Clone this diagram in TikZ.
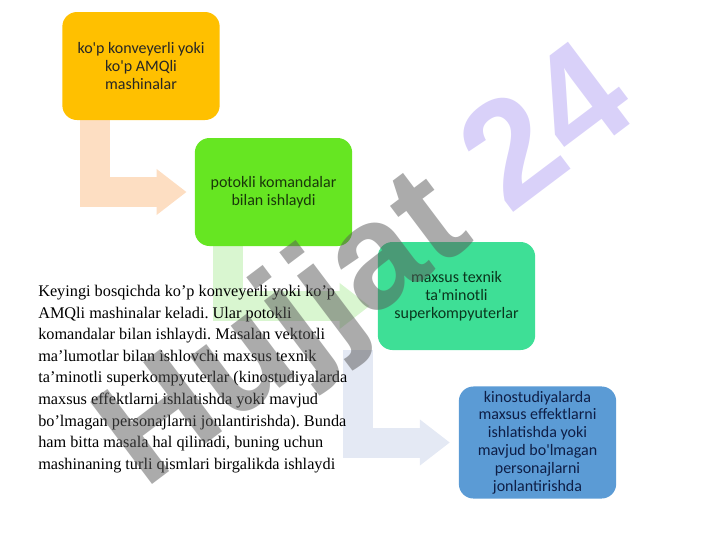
\documentclass[tikz,border=0pt]{standalone}
\usepackage{fontspec}
\setmainfont{Liberation Serif}
\newfontfamily\boxfont{Carlito}
\newfontfamily\markfont{Liberation Sans}
\usetikzlibrary{positioning,calc,arrows.meta}

\definecolor{ambar}{HTML}{FFC000}
\definecolor{lime}{HTML}{66E622}
\definecolor{mint}{HTML}{3EDF96}
\definecolor{sky}{HTML}{5B9BD5}
\definecolor{peach}{HTML}{FDDEC2}
\definecolor{palegreen}{HTML}{D9F6D0}
\definecolor{paleblue}{HTML}{E4E9F4}
\definecolor{markgray}{RGB}{87,87,87}
\definecolor{marklilac}{RGB}{179,163,243}

\pgfdeclarelayer{background}
\pgfsetlayers{background,main}

\begin{document}
\frenchspacing
\begin{tikzpicture}[x=0.75pt,y=-0.75pt,
  stepbox/.style={shape=rectangle,rounded corners=11pt,minimum width=118pt,minimum height=81pt,align=center,font=\boxfont\fontsize{12}{13.4}\selectfont},
  bent/.style={line width=22.5pt,-{Triangle[width=33pt,length=22.5pt]}}]
\useasboundingbox (0,0) rectangle (720,540);

% boxes
\node (first) [stepbox,fill=ambar,text=black!85] at (141,66) {ko'p konveyerli yoki\\ko'p AMQli\\mashinalar};
\node (second) [stepbox,fill=lime,text={rgb,255:red,25;green,55;blue,10}] at (273.5,192) {potokli komandalar\\bilan ishlaydi};
\node (third) [stepbox,fill=mint,text={rgb,255:red,10;green,55;blue,30}] at (456.5,296) {maxsus texnik\\ta'minotli\\superkompyuterlar};
\node (fourth) [stepbox,fill=sky,text={rgb,255:red,14;green,30;blue,70}] at (537.5,442.5) {kinostudiyalarda\\maxsus effektlarni\\ishlatishda yoki\\mavjud bo'lmagan\\personajlarni\\jonlantirishda};

% bent arrows
\begin{pgfonlayer}{background}
\path ($(first.south west)+(33,0)$) coordinate (a1)
      ($(second.south west)+(33,0)$) coordinate (a2)
      ($(third.south west)+(-20,0)$) coordinate (a3);
\draw[bent,peach,shorten >=6pt] (a1) |- (second.west);
\draw[bent,palegreen,shorten >=6pt] (a2) |- ($(third.west)+(0,10)$);
\draw[bent,paleblue,shorten >=6.5pt] (a3) |- (fourth.west);
\end{pgfonlayer}

% text
\node (story) [anchor=north west,align=left,inner sep=0pt,font=\fontsize{12.2}{16.2}\selectfont] at (38,285) {%
Keyingi bosqichda ko’p konveyerli yoki ko’p\\
AMQli mashinalar keladi. Ular potokli\\
komandalar bilan ishlaydi. Masalan vektorli\\
ma’lumotlar bilan ishlovchi maxsus texnik\\
ta’minotli superkompyuterlar (kinostudiyalarda\\
maxsus effektlarni ishlatishda yoki mavjud\\
bo’lmagan personajlarni jonlantirishda). Bunda\\
ham bitta masala hal qilinadi, buning uchun\\
mashinaning turli qismlari birgalikda ishlaydi};

% watermark
\node (mark) [rotate=37,text opacity=0.5,font=\markfont\bfseries\fontsize{112}{112}\selectfont] at (370,272) {\textcolor{markgray}{Hujjat} \textcolor{marklilac}{24}};
\end{tikzpicture}
\end{document}
